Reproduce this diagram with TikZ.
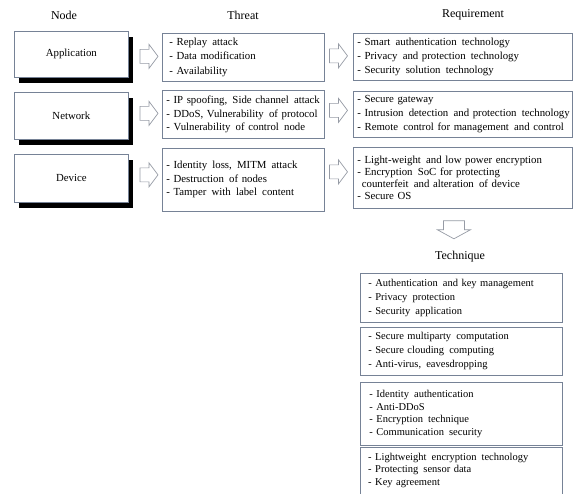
\documentclass[tikz,border=0pt]{standalone}
\usepackage{fontspec}
\setmainfont{Liberation Serif}
\usetikzlibrary{calc,shadows}
\definecolor{boxline}{RGB}{118,130,150}
\definecolor{arrline}{RGB}{150,155,165}
\newcommand\bxl[1]{\mbox{#1}}
\newcommand\xs{\hspace{1.6pt}}
\tikzset{
  hdr/.style={font=\fontsize{12}{14}\selectfont, inner sep=0},
  nodebox/.style={draw=boxline, line width=0.7pt, fill=white, anchor=north west,
    minimum width=114, inner sep=0, font=\fontsize{10.8}{14}\selectfont,
    general shadow={fill=black, shadow xshift=5pt, shadow yshift=-6pt}},
  txtbox/.style={draw=boxline, line width=0.8pt, fill=white, anchor=north west,
    align=left, inner ysep=0, inner xsep=#1},
  txtbox/.default=7,
  arrline/.style={draw=arrline, line width=0.7pt, fill=white},
  rarr/.pic={\path[arrline] (-9,-7) -- (0,-7) -- (0,-12) -- (9,0) -- (0,12) -- (0,7) -- (-9,7) -- cycle;},
  darr/.pic={\path[arrline] (-10.5,0) -- (10.5,0) -- (10.5,9) -- (16.5,9) -- (0,18) -- (-16.5,9) -- (-10.5,9) -- cycle;}
}
\begin{document}
\begin{tikzpicture}[x=1pt,y=-1pt]
\useasboundingbox (0,0) rectangle (573,494);
% headings
\node[hdr] (hNode) at (64,15) {Node};
\node[hdr] (hThreat) at (243,15) {Threat};
\node[hdr] (hReq) at (473,15) {Requirement};
\node[hdr] (hTech) at (460,257) {Technique};
% node boxes
\node[nodebox, minimum height=46] (app) at (14,31) {Application};
\node[nodebox, minimum height=47] (net) at (14,92) {Network};
\node[nodebox, minimum height=48] (dev) at (14,154) {Device};
% threat boxes
\node[txtbox=7, minimum width=162, minimum height=48, text width=148,
  font=\fontsize{10.8}{14.5}\selectfont] (appT) at (162,33)
  {\bxl{- Replay\xs{} attack}\\\bxl{- Data modification}\\\bxl{- Availability}};
\node[txtbox=4, minimum width=162, minimum height=48, text width=154,
  font=\fontsize{10.8}{13.5}\selectfont] (netT) at (162,90)
  {\bxl{- IP spoofing,\xs{} Side channel\xs{} attack}\\\bxl{- DDoS, Vulnerability\xs{} of protocol}\\\bxl{- Vulnerability\xs{} of control\xs{} node}};
\node[txtbox=4, minimum width=162, minimum height=63, text width=154,
  font=\fontsize{10.8}{13.5}\selectfont] (devT) at (162,148)
  {\bxl{- Identity\xs{} loss,\xs{} MITM\xs{} attack}\\\bxl{- Destruction\xs{} of nodes}\\\bxl{- Tamper\xs{} with\xs{} label\xs{} content}};
% requirement boxes
\node[txtbox=4, minimum width=219, minimum height=47, text width=211,
  font=\fontsize{10.8}{14}\selectfont] (appR) at (353,33)
  {\bxl{- Smart\xs{} authentication\xs{} technology}\\\bxl{- Privacy\xs{} and protection\xs{} technology}\\\bxl{- Security\xs{} solution\xs{} technology}};
\node[txtbox=4, minimum width=219, minimum height=46, text width=211,
  font=\fontsize{10.8}{14}\selectfont] (netR) at (353,91)
  {\bxl{- Secure gateway}\\\bxl{- Intrusion\xs{} detection\xs{} and protection\xs{} technology}\\\bxl{- Remote\xs{} control for management\xs{} and control}};
\node[txtbox=4, minimum width=219, minimum height=61, text width=211,
  font=\fontsize{10.8}{12.2}\selectfont] (devR) at (353,147)
  {\bxl{- Light-weight\xs{} and low power encryption}\\\bxl{- Encryption\xs{} SoC for protecting}\\\bxl{\hspace*{4.5pt}counterfeit\xs{} and alteration\xs{} of device}\\\bxl{- Secure OS}};
% technique boxes
\node[txtbox=8, minimum width=202, minimum height=49, text width=186,
  font=\fontsize{10.5}{14}\selectfont] (t1) at (360,273)
  {\bxl{- Authentication\xs{} and key management}\\\bxl{- Privacy\xs{} protection}\\\bxl{- Security\xs{} application}};
\node[txtbox=8, minimum width=202, minimum height=48, text width=186,
  font=\fontsize{10.5}{14}\selectfont] (t2) at (360,327)
  {\bxl{- Secure multiparty\xs{} computation}\\\bxl{- Secure clouding\xs{} computing}\\\bxl{- Anti-virus,\xs{} eavesdropping}};
\node[txtbox=9, minimum width=202, minimum height=63, text width=184,
  font=\fontsize{10.5}{12.5}\selectfont] (t3) at (360,382)
  {\bxl{- Identity\xs{} authentication}\\\bxl{- Anti-DDoS}\\\bxl{- Encryption\xs{} technique}\\\bxl{- Communication\xs{} security}};
\node[anchor=north west, align=left, inner xsep=8, inner ysep=6, text width=186,
  font=\fontsize{10.5}{12.5}\selectfont] (t4) at (360,447)
  {\bxl{- Lightweight\xs{} encryption\xs{} technology}\\\bxl{- Protecting\xs{} sensor data}\\\bxl{- Key agreement}};
\draw[boxline, line width=0.8pt] (360,494) -- (360,447) -- (562,447) -- (562,494);
% arrows node -> threat
\pic at ($(appT.west)+(-13,-1)$) {rarr};
\pic at ($(netT.west)+(-13,-1)$) {rarr};
\pic at ($(devT.west)+(-13,-5)$) {rarr};
% arrows threat -> requirement
\pic at ($(appR.west)+(-14.5,-1)$) {rarr};
\pic at ($(netR.west)+(-14.5,-4)$) {rarr};
\pic at ($(devR.west)+(-14.5,-6)$) {rarr};
% arrow requirement -> technique
\pic at ($(devR.south)+(-9,12)$) {darr};
\end{tikzpicture}
\end{document}
